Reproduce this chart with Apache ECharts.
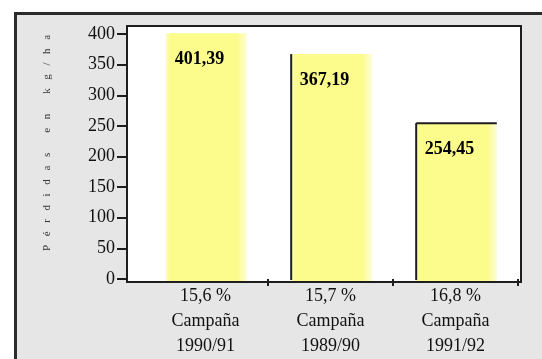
<!DOCTYPE html>
<html>
<head>
<meta charset="utf-8">
<script src="https://cdn.jsdelivr.net/npm/echarts@6/dist/echarts.min.js"></script>
<style>
  html, body { margin: 0; padding: 0; background: #ffffff; }
  #chart { width: 542px; height: 359px; }
</style>
</head>
<body>
<div id="chart"></div>
<script>
// ---- data ----
const values = [401.39, 367.19, 254.45];
const percents = ['15,6 %', '15,7 %', '16,8 %'];
const campaigns = ['1990/91', '1989/90', '1991/92'];
const campaignWord = 'Campaña';
const yAxisName = 'Pérdidas en kg/ha';
const yMin = 0, yMax = 400, yStep = 50;

// ---- styling (not data) ----
const barEdges = [
  { left: false, top: false },
  { left: true, top: false },
  { left: true, top: true }
];
const SERIF = '"Liberation Serif", "DejaVu Serif", serif';
const INK = '#1e1e1e';

const fmt = v => v.toFixed(2).replace('.', ',');
const spaced = Array.from(yAxisName).join('\u2002\u2009\u200A');

const chart = echarts.init(document.getElementById('chart'), null, { renderer: 'canvas' });

const barFill = new echarts.graphic.LinearGradient(0, 0, 1, 0, [
  { offset: 0, color: '#fcfcb8' },
  { offset: 0.05, color: '#fcfc8c' },
  { offset: 0.88, color: '#fcfc8c' },
  { offset: 1, color: '#fdfdd6' }
]);

const option = {
  animation: false,
  backgroundColor: '#ffffff',
  graphic: [
    { type: 'rect', z: -20, shape: { x: 15.5, y: 13.5, width: 600, height: 400 },
      style: { fill: '#e6e6e6', stroke: '#2b2b2b', lineWidth: 3 } },
    { type: 'rect', z: -10, shape: { x: 127, y: 26, width: 394, height: 256 },
      style: { fill: '#ffffff', stroke: INK, lineWidth: 2 } },
    { type: 'text', z: 10, x: 47, y: 143, rotation: Math.PI / 2,
      style: { text: spaced, fontSize: 11, fontFamily: SERIF, fill: '#333',
               align: 'center', verticalAlign: 'middle' } }
  ],
  grid: { left: 143, right: 24, top: 34, bottom: 77 },
  xAxis: {
    type: 'category',
    data: percents,
    boundaryGap: true,
    axisLine: { show: false },
    axisTick: { show: true, length: 7, lineStyle: { color: INK, width: 2 },
                interval: (idx) => idx > 0 },
    axisLabel: {
      margin: 5,
      color: '#111',
      fontSize: 18,
      fontFamily: SERIF,
      lineHeight: 25,
      interval: 0,
      formatter: (val, idx) => [percents[idx], campaignWord, campaigns[idx]].join('\n')
    },
    splitLine: { show: false }
  },
  yAxis: {
    type: 'value',
    min: yMin, max: yMax, interval: yStep,
    offset: 16,
    axisLine: { show: true, lineStyle: { color: INK, width: 2 } },
    axisTick: { show: true, length: 10, lineStyle: { color: INK, width: 2 } },
    axisLabel: { color: '#111', fontSize: 18, fontFamily: SERIF, margin: 12 },
    splitLine: { show: false }
  },
  series: [{
    type: 'custom',
    data: values.map((v, i) => [i, v]),
    renderItem: (params, api) => {
      const i = api.value(0), v = api.value(1);
      const top = api.coord([i, v]);
      const base = api.coord([i, 0]);
      const w = api.size([1, 0])[0] * 0.645;
      const x0 = top[0] - w / 2 + 1;
      const edge = barEdges[params.dataIndex];
      const children = [{
        type: 'rect',
        shape: { x: x0, y: top[1], width: w, height: base[1] - top[1] + 2 },
        style: { fill: barFill }
      }];
      if (edge.left) {
        children.push({ type: 'line', shape: { x1: x0, y1: top[1], x2: x0, y2: base[1] + 1 },
                        style: { stroke: INK, lineWidth: 2 } });
      }
      if (edge.top) {
        children.push({ type: 'line', shape: { x1: x0, y1: top[1], x2: x0 + w, y2: top[1] },
                        style: { stroke: INK, lineWidth: 2 } });
      }
      children.push({
        type: 'text', x: top[0] - 6, y: top[1] + 26,
        style: { text: fmt(v), fontSize: 18, fontWeight: 'bold', fontFamily: SERIF,
                 fill: '#000', align: 'center', verticalAlign: 'middle' }
      });
      return { type: 'group', children };
    }
  }]
};
chart.setOption(option);
</script>
</body>
</html>
